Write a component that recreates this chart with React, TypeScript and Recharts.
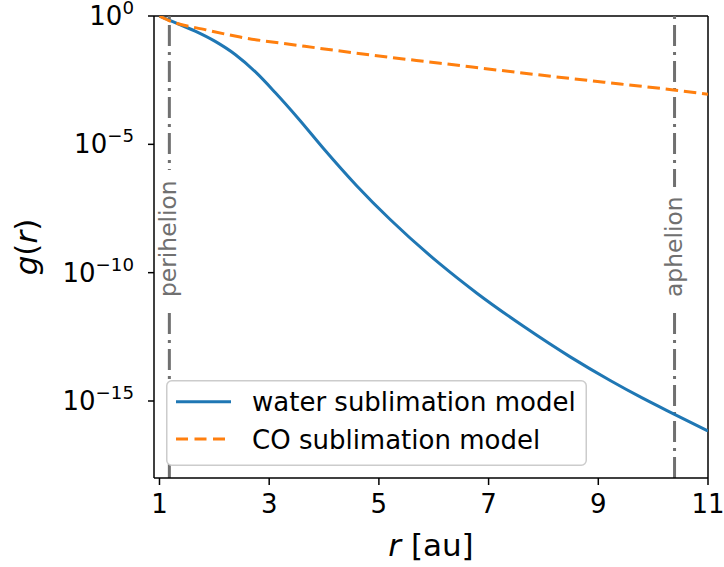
import { LineChart, Line, XAxis, YAxis, ReferenceLine } from "recharts";

// values: r in au, log10 g(r)
const waterR = [1, 1.286, 1.651, 2.016, 2.38, 2.745, 3.109, 3.534, 3.99, 4.599, 5.206, 6.118, 6.787, 7.636, 8.488, 9.217, 9.8, 10.371, 11.0];
const waterLogG = [0, -0.26, -0.59, -0.99, -1.5, -2.17, -2.98, -4.0, -5.16, -6.62, -7.93, -9.67, -10.8, -12.09, -13.28, -14.2, -14.88, -15.5, -16.17];

const coR = [1, 1.164, 1.85, 2.47, 3.65, 4.9, 6.118, 7.576, 9.4, 10.37, 11.0];
const coLogG = [0, -0.17, -0.54, -0.82, -1.18, -1.534, -1.84, -2.21, -2.65, -2.88, -3.05];

const rTicks = [1, 3, 5, 7, 9, 11];
const gTicks = [1, 1e-5, 1e-10, 1e-15];
const perihelion = 1.18;
const aphelion = 10.39;

const seriesNames = ["water sublimation model", "CO sublimation model"];
const BLUE = "#1f77b4";
const ORANGE = "#ff7f0e";
const GREY = "#707070";
const FONT = "'DejaVu Sans', sans-serif";

const waterData = waterR.map((r, i) => ({ r, g: Math.pow(10, waterLogG[i]) }));
const coData = coR.map((r, i) => ({ r, g: Math.pow(10, coLogG[i]) }));

function YTick(props: any) {
  const { x, y, payload } = props;
  const e = Math.round(Math.log10(payload.value));
  return (
    <text x={x - 12} y={y + 9} textAnchor="end" fontFamily={FONT} fontSize={26} fill="#000">
      10
      <tspan dy={-11} fontSize={18.2}>
        {e === 0 ? "0" : "\u2212" + Math.abs(e)}
      </tspan>
    </text>
  );
}

function XTick(props: any) {
  const { x, y, payload } = props;
  return (
    <text x={x} y={y + 26} textAnchor="middle" fontFamily={FONT} fontSize={26} fill="#000">
      {payload.value}
    </text>
  );
}

function OrbitLabel(props: any) {
  const { viewBox, text, len } = props;
  const cx = viewBox.x;
  const bottom = viewBox.y + 281;
  return (
    <g>
      <rect x={cx - 12} y={bottom - len - 10} width={24} height={len + 20} fill="#fff" />
      <text
        x={cx + 7}
        y={bottom}
        transform={`rotate(-90, ${cx + 7}, ${bottom})`}
        fontFamily={FONT}
        fontSize={23.4}
        fill={GREY}
      >
        {text}
      </text>
    </g>
  );
}

function LegendBox() {
  return (
    <svg width={421} height={86} style={{ display: "block" }}>
      <rect x={0.75} y={0.75} width={419.5} height={84.5} rx={5} fill="#fff" stroke="#cccccc" strokeWidth={1.5} />
      <line x1={10} x2={65} y1={21.7} y2={21.7} stroke={BLUE} strokeWidth={3} />
      <line x1={10} x2={65} y1={59} y2={59} stroke={ORANGE} strokeWidth={3} strokeDasharray="12 6.5" />
      <text x={86} y={31} fontFamily={FONT} fontSize={26} fill="#000">
        {seriesNames[0]}
      </text>
      <text x={86} y={69} fontFamily={FONT} fontSize={26} fill="#000">
        {seriesNames[1]}
      </text>
    </svg>
  );
}

export default function App() {
  return (
    <div style={{ position: "absolute", left: 0, top: 0, width: 724, height: 567, background: "#fff" }}>
      <LineChart width={724} height={567} margin={{ top: 16, right: 16, left: 0, bottom: 0 }}>
        <XAxis
          dataKey="r"
          type="number"
          domain={[0.9, 11]}
          ticks={rTicks}
          allowDataOverflow
          height={89}
          tickSize={7}
          tick={<XTick />}
          axisLine={{ stroke: "#000", strokeWidth: 1.5 }}
          tickLine={{ stroke: "#000", strokeWidth: 1.5 }}
        />
        <YAxis
          scale="log"
          domain={[1e-18, 1]}
          ticks={gTicks}
          allowDataOverflow
          width={154}
          tickSize={6}
          tick={<YTick />}
          axisLine={{ stroke: "#000", strokeWidth: 1.5 }}
          tickLine={{ stroke: "#000", strokeWidth: 1.5 }}
        />
        {/* top and right spines */}
        <ReferenceLine y={1} stroke="#000" strokeWidth={1.5} ifOverflow="visible" />
        <ReferenceLine x={11} stroke="#000" strokeWidth={1.5} ifOverflow="visible" />
        <ReferenceLine
          x={perihelion}
          stroke={GREY}
          strokeWidth={3}
          strokeDasharray="21 6 3 6"
          label={<OrbitLabel text="perihelion" len={117} />}
        />
        <ReferenceLine
          x={aphelion}
          stroke={GREY}
          strokeWidth={3}
          strokeDasharray="21 6 3 6"
          label={<OrbitLabel text="aphelion" len={100} />}
        />
        <Line
          data={waterData}
          dataKey="g"
          name={seriesNames[0]}
          type="monotone"
          stroke={BLUE}
          strokeWidth={3}
          dot={false}
          activeDot={false}
          isAnimationActive={false}
        />
        <Line
          data={coData}
          dataKey="g"
          name={seriesNames[1]}
          type="monotone"
          stroke={ORANGE}
          strokeWidth={3}
          strokeDasharray="12.5 5.8"
          dot={false}
          activeDot={false}
          isAnimationActive={false}
        />
        <text
          x={37}
          y={247}
          transform="rotate(-90, 37, 247)"
          textAnchor="middle"
          fontFamily={FONT}
          fontSize={31}
          fill="#000"
        >
          <tspan fontStyle="italic">g</tspan>(<tspan fontStyle="italic">r</tspan>)
        </text>
        <text x={431} y={556} textAnchor="middle" fontFamily={FONT} fontSize={31} fill="#000">
          <tspan fontStyle="italic">r</tspan> [au]
        </text>
      </LineChart>
      <div style={{ position: "absolute", left: 166, top: 380 }}>
        <LegendBox />
      </div>
    </div>
  );
}
